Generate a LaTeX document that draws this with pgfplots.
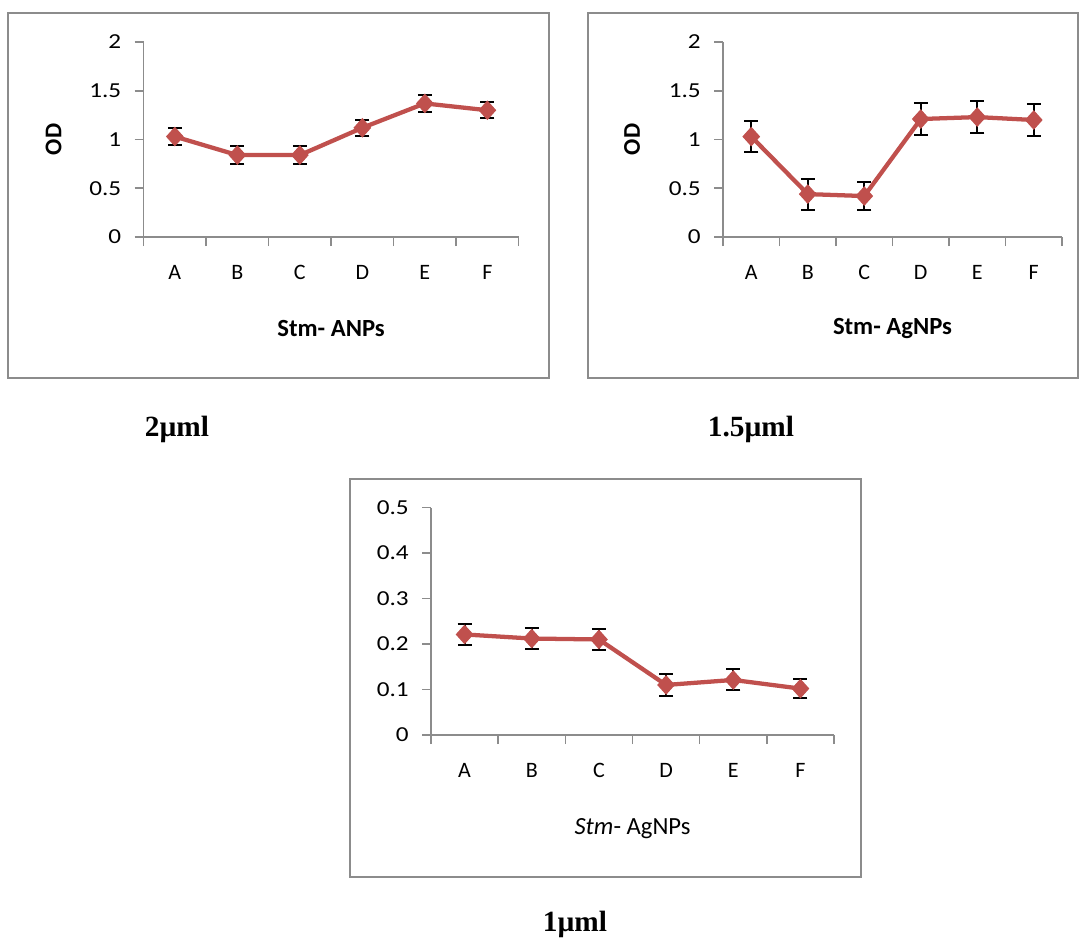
\documentclass[border=0pt]{standalone}
\usepackage{pgfplots}
\pgfplotsset{compat=1.18}
\usepackage{fontspec}
\setmainfont{Carlito}
\newfontfamily\tickfont{Carlito}[FakeStretch=1.18]
\newfontfamily\tnr{Liberation Serif}
\definecolor{exred}{RGB}{192,80,77}
\definecolor{axgray}{RGB}{140,140,140}
\definecolor{boxgray}{RGB}{140,140,140}

\pgfplotstableread{
x y e
0.5 1.03 0.09
1.5 0.84 0.09
2.5 0.84 0.09
3.5 1.12 0.08
4.5 1.37 0.085
5.5 1.30 0.08
}\dataA
\pgfplotstableread{
x y e
0.5 1.03 0.16
1.5 0.44 0.16
2.5 0.42 0.145
3.5 1.21 0.16
4.5 1.23 0.16
5.5 1.20 0.16
}\dataB
\pgfplotstableread{
x y e
0.5 0.221 0.024
1.5 0.212 0.024
2.5 0.210 0.024
3.5 0.110 0.025
4.5 0.121 0.023
5.5 0.102 0.021
}\dataC

\pgfplotsset{
  panel/.style={
    scale only axis, anchor=south west, clip=false,
    axis lines=left, axis line style={-, draw=axgray, line width=1.2pt},
    xmin=0, xmax=6, xtick={0,1,...,6}, xticklabels={A,B,C,D,E,F},
    x tick label as interval,
    ymin=0,
    tick align=outside, major tick length=6.75pt,
    tick style={draw=axgray, line width=1.2pt},
    ticklabel style={text=black},
    /pgf/number format/assume math mode=true,
    yticklabel style={xshift=-6.5pt, font=\tickfont\fontsize{16}{18}\selectfont},
    xticklabel style={yshift=-11pt, font=\fontsize{16.5}{18}\selectfont},
    xlabel style={anchor=center, font=\bfseries\fontsize{18.5}{21}\selectfont},
    ylabel style={anchor=center, font=\bfseries\fontsize{18}{21}\selectfont},
  },
  series/.style={exred, line width=3.2pt, mark=diamond*, mark size=6.8pt,
    mark options={fill=exred, draw=exred, line width=0.8pt, xscale=1.2},
    error bars/.cd, y dir=both, y explicit,
    error bar style={black, line width=1.5pt},
    error mark options={rotate=90, black, line width=1.5pt, mark size=5.25pt}},
}

\begin{document}
\begin{tikzpicture}
\useasboundingbox (0,0) rectangle (810pt,-705.75pt);
\fill[white] (0,0) rectangle (810pt,-705.75pt);
% frames
\draw[boxgray, line width=1.5pt] (6pt,-9.75pt) rectangle (411.75pt,-283.5pt);
\draw[boxgray, line width=1.5pt] (441pt,-9.75pt) rectangle (808.5pt,-283.5pt);
\draw[boxgray, line width=1.5pt] (262.5pt,-359.25pt) rectangle (645.75pt,-657.75pt);

\begin{axis}[panel, at={(107.7pt,-177.75pt)}, width=281.25pt, height=146.25pt,
  ymax=2, ytick={0,0.5,1,1.5,2},
  xlabel={Stm- ANPs}, ylabel={OD},
  xlabel style={at={(axis description cs:0.5,-0.4667)}},
  ylabel style={at={(axis description cs:-0.24,0.5)}}]
\addplot[series] table[x=x, y=y, y error=e] {\dataA};
\end{axis}

\begin{axis}[panel, at={(542.25pt,-177.75pt)}, width=254.25pt, height=146.25pt,
  ymax=2, ytick={0,0.5,1,1.5,2},
  xlabel={Stm- AgNPs}, ylabel={OD},
  xlabel style={at={(axis description cs:0.5,-0.4667)}},
  ylabel style={at={(axis description cs:-0.2684,0.5)}}]
\addplot[series] table[x=x, y=y, y error=e] {\dataB};
\end{axis}

\begin{axis}[panel, at={(323.25pt,-551.25pt)}, width=302.25pt, height=170.625pt,
  ymax=0.5, ytick={0,0.1,0.2,0.3,0.4,0.5},
  xlabel={\textit{Stm}- AgNPs},
  xlabel style={at={(axis description cs:0.5,-0.4132)}, font=\fontsize{18.5}{21}\selectfont}]
\addplot[series] table[x=x, y=y, y error=e] {\dataC};
\end{axis}

\node[font=\tnr\bfseries\fontsize{22}{26}\selectfont] at (132.75pt,-321.75pt) {2µml};
\node[font=\tnr\bfseries\fontsize{22}{26}\selectfont] at (563.25pt,-321.75pt) {1.5µml};
\node[font=\tnr\bfseries\fontsize{22}{26}\selectfont] at (431.25pt,-693pt) {1µml};
\end{tikzpicture}
\end{document}
